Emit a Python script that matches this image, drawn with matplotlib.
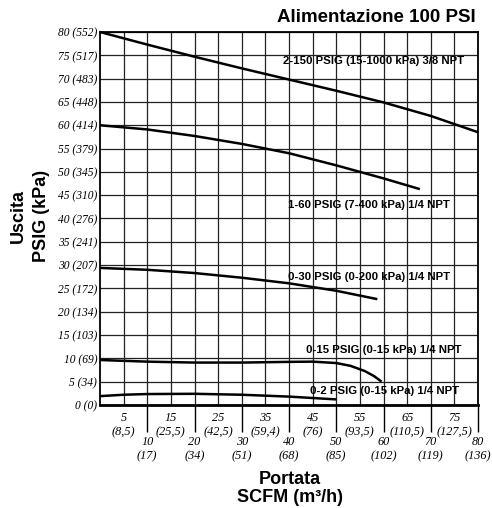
import matplotlib
matplotlib.use("Agg")
import matplotlib.pyplot as plt
import numpy as np

# ---- data ----
flow_150 = [0, 10, 20, 30, 40, 50, 60, 70, 80]
psi_150 = [80, 77.3, 74.7, 72.2, 69.8, 67.4, 64.9, 62.0, 58.5]

flow_60 = [0, 10, 20, 30, 40, 50, 55, 60, 67.7]
psi_60 = [60, 59.1, 57.7, 56.0, 54.0, 51.4, 50.0, 48.6, 46.3]

flow_30 = [0, 10, 20, 30, 40, 50, 58.7]
psi_30 = [29.4, 29.0, 28.3, 27.3, 26.1, 24.5, 22.7]

flow_15 = [0, 10, 20, 30, 40, 45, 50, 53, 56, 58, 59.6]
psi_15 = [9.65, 9.3, 9.1, 9.1, 9.25, 9.3, 9.0, 8.4, 7.3, 6.2, 5.0]

flow_2 = [0, 5, 10, 20, 30, 40, 50]
psi_2 = [1.9, 2.2, 2.35, 2.4, 2.2, 1.8, 1.2]

curve_labels = ["2-150 PSIG (15-1000 kPa) 3/8 NPT",
                "1-60 PSIG (7-400 kPa) 1/4 NPT",
                "0-30 PSIG (0-200 kPa) 1/4 NPT",
                "0-15 PSIG (0-15 kPa) 1/4 NPT",
                "0-2 PSIG (0-15 kPa) 1/4 NPT"]
label_pos = [(58.0, 73.8), (57.0, 42.8), (57.0, 27.5), (60.0, 11.7), (60.3, 2.9)]

y_ticks = list(range(0, 85, 5))
y_kpa = ["0", "34", "69", "103", "134", "172", "207", "241", "276", "310",
         "345", "379", "414", "448", "483", "517", "552"]
x_major = [10, 20, 30, 40, 50, 60, 70, 80]
x_major_m3 = ["17", "34", "51", "68", "85", "102", "119", "136"]
x_minor = [5, 15, 25, 35, 45, 55, 65, 75]
x_minor_m3 = ["8,5", "25,5", "42,5", "59,4", "76", "93,5", "110,5", "127,5"]

# ---- figure ----
W, H = 492, 508
fig = plt.figure(figsize=(W / 100, H / 100), dpi=100)
ax = fig.add_axes([100 / W, (H - 405) / H, 378 / W, 373 / H])
ax.set_xlim(0, 80)
ax.set_ylim(0, 80)

serif_y = dict(family="Liberation Serif", style="italic", size=8.3)
serif_x = dict(family="Liberation Serif", style="italic", size=8.8)
sans_b = dict(family="Liberation Sans", weight="bold")

ax.set_yticks(y_ticks)
ax.set_yticklabels([f"{v} ({k})" for v, k in zip(y_ticks, y_kpa)], fontdict=serif_y)
ax.tick_params(axis="y", length=0, pad=2)

ax.set_xticks(x_major)
ax.set_xticklabels([f"{v}\n({k})" for v, k in zip(x_major, x_major_m3)],
                   fontdict=serif_x, linespacing=1.25)
ax.set_xticks(x_minor, minor=True)
ax.set_xticklabels([f"{v}\n({k})" for v, k in zip(x_minor, x_minor_m3)],
                   minor=True, fontdict=serif_x, linespacing=1.25)
ax.tick_params(axis="x", which="major", length=19.5, width=1.0, direction="out", pad=3)
ax.tick_params(axis="x", which="minor", length=0, pad=5)

ax.grid(True, which="both", color="#222222", lw=0.9)
ax.set_axisbelow(True)
for s in ["top", "right", "left"]:
    ax.spines[s].set_linewidth(1.3)
ax.spines["bottom"].set_linewidth(2.0)

for fx, py in [(flow_150, psi_150), (flow_60, psi_60), (flow_30, psi_30),
               (flow_15, psi_15), (flow_2, psi_2)]:
    ax.plot(fx, py, color="black", lw=1.8, solid_capstyle="butt", clip_on=False)

for lab, (lx, ly) in zip(curve_labels, label_pos):
    ax.text(lx, ly, lab, ha="center", va="center", fontsize=8.2, **sans_b)

fig.text(476 / W, 1 - 18 / H, "Alimentazione 100 PSI", ha="right", va="center",
         fontsize=13.5, **sans_b)
fig.text(290 / W, 1 - 479 / H, "Portata", ha="center", va="center", fontsize=13, **sans_b)
fig.text(290 / W, 1 - 498 / H, "SCFM (m³/h)", ha="center", va="center", fontsize=13, **sans_b)
fig.text(18 / W, 1 - 216 / H, "Uscita", ha="center", va="center", rotation=90,
         fontsize=13, **sans_b)
fig.text(41 / W, 1 - 216 / H, "PSIG (kPa)", ha="center", va="center", rotation=90,
         fontsize=13, **sans_b)

fig.savefig("out.png", dpi=100)
